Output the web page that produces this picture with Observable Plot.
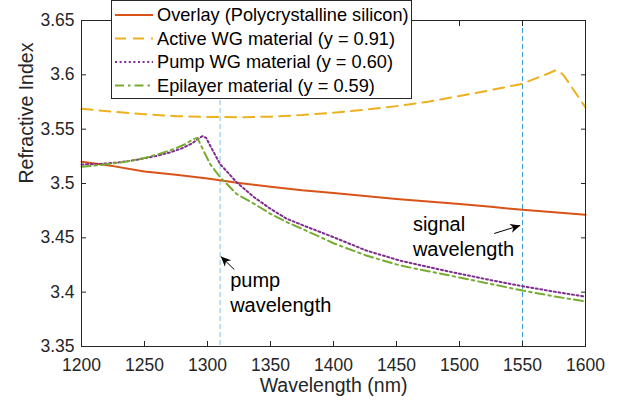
<!DOCTYPE html>
<html><head><meta charset="utf-8">
<script src="https://cdn.jsdelivr.net/npm/d3@7"></script>
<script src="https://cdn.jsdelivr.net/npm/@observablehq/plot@0.6"></script>
<style>
html,body{margin:0;padding:0;background:#fff;}
#wrap{position:relative;width:625px;height:402px;font-family:"Liberation Sans",Arial,sans-serif;}
#legend{position:absolute;left:111px;top:0px;}
</style></head><body><div id="wrap"></div>
<script>
// ---- data ----
const overlayX = [1200,1225,1250,1275,1300,1325,1350,1375,1400,1425,1450,1475,1500,1525,1550,1575,1600];
const overlayY = [3.5200,3.5160,3.5110,3.5080,3.5045,3.5005,3.4970,3.4937,3.4912,3.4885,3.4858,3.4835,3.4812,3.4785,3.4758,3.4735,3.4712];

const activeX = [1200,1225,1250,1275,1300,1325,1350,1375,1400,1425,1450,1475,1500,1525,1550,1560,1570,1576,1580,1583,1590,1600];
const activeY = [3.5687,3.5660,3.5638,3.5620,3.5612,3.5610,3.5615,3.5630,3.5652,3.5680,3.5712,3.5752,3.5805,3.5860,3.5918,3.5965,3.6010,3.6040,3.6025,3.5990,3.5870,3.5700];

const pumpX = [1200,1215,1230,1245,1260,1270,1280,1288,1293,1296,1299,1302,1306,1310,1317,1323,1337,1350,1363,1376,1388,1400,1426,1453,1485,1500,1525,1550,1575,1600];
const pumpY = [3.5175,3.5180,3.5195,3.5220,3.5255,3.5285,3.5325,3.5370,3.5415,3.5435,3.5420,3.5350,3.5265,3.5180,3.5090,3.5012,3.4874,3.4767,3.4675,3.4614,3.4560,3.4506,3.4383,3.4290,3.4206,3.4170,3.4110,3.4055,3.4005,3.3958];

const epiX = [1200,1215,1235,1250,1261,1274,1283,1289,1292,1294,1298,1302,1310,1323,1337,1350,1363,1376,1388,1400,1426,1453,1485,1500,1525,1550,1575,1600];
const epiY = [3.5155,3.5170,3.5200,3.5235,3.5270,3.5320,3.5365,3.5410,3.5420,3.5370,3.5275,3.5180,3.5058,3.4905,3.4813,3.4721,3.4644,3.4578,3.4515,3.4450,3.4337,3.4245,3.4170,3.4135,3.4075,3.4015,3.3962,3.3914];

const seriesNames = ["Overlay (Polycrystalline silicon)","Active WG material (y = 0.91)","Pump WG material (y = 0.60)","Epilayer material (y = 0.59)"];
const seriesColors = ["#D95319","#EDB120","#7E2F8E","#77AC30"];
const seriesDash = [null,"11,7","2,2.6","9,4,2.5,4"];

const markerLines = [1310, 1550];
const markerColors = ["#80C2E8", "#3D9BD3"];

const xTicks = [1200,1250,1300,1350,1400,1450,1500,1550,1600];
const yTicks = [3.35,3.4,3.45,3.5,3.55,3.6,3.65];
const xLabel = "Wavelength (nm)";
const yLabel = "Refractive Index";

const notes = [
  {x: 1318, y: 3.3813, text: "pump\nwavelength"},
  {x: 1463, y: 3.4337, text: "signal\nwavelength"}
];
const arrows = [
  {x1: 1321.2, y1: 3.4209, x2: 1310.6, y2: 3.4328},
  {x1: 1527.5, y1: 3.4540, x2: 1548.2, y2: 3.4614}
];

// ---- build ----
const seriesX = [overlayX, activeX, pumpX, epiX];
const seriesY = [overlayY, activeY, pumpY, epiY];
const ink = "#262626";
const font = "'Liberation Sans', Arial, sans-serif";

function filledHead(color) {
  const ns = "http://www.w3.org/2000/svg";
  const m = document.createElementNS(ns, "marker");
  m.setAttribute("viewBox", "-12 -6 13 12");
  m.setAttribute("markerWidth", "13");
  m.setAttribute("markerHeight", "12");
  m.setAttribute("markerUnits", "userSpaceOnUse");
  m.setAttribute("orient", "auto");
  m.setAttribute("refX", "0");
  m.setAttribute("refY", "0");
  const p = document.createElementNS(ns, "path");
  p.setAttribute("d", "M0,0L-10,-4.5L-7,0L-10,4.5Z");
  p.setAttribute("fill", "black");
  p.setAttribute("stroke", "none");
  m.appendChild(p);
  return m;
}

function build(markerEnd) {
  const marks = [];
  markerLines.forEach((v, i) => {
    marks.push(Plot.ruleX([v], {stroke: markerColors[i], strokeWidth: 1, strokeDasharray: "5,3"}));
  });
  seriesNames.forEach((name, i) => {
    const rows = seriesX[i].map((x, j) => ({x, y: seriesY[i][j]}));
    marks.push(Plot.line(rows, {x: "x", y: "y", stroke: seriesColors[i], strokeWidth: 2,
      strokeDasharray: seriesDash[i] ?? undefined, curve: "linear"}));
  });
  marks.push(Plot.link(arrows, {x1: "x1", y1: "y1", x2: "x2", y2: "y2", stroke: "black", strokeWidth: 1, markerEnd}));
  marks.push(Plot.text(notes, {x: "x", y: "y", text: "text", textAnchor: "start", lineAnchor: "bottom",
    lineHeight: 1.25, fontSize: 20, fill: "black"}));
  marks.push(Plot.frame({stroke: ink, strokeWidth: 1}));
  marks.push(Plot.axisX({anchor: "bottom", ticks: xTicks, tickSize: -5, tickPadding: 17.5, fontSize: 17.5,
    tickFormat: d => String(d), stroke: ink, fill: ink, label: null}));
  marks.push(Plot.axisX({anchor: "top", ticks: xTicks, tickSize: -5, tickFormat: () => "", stroke: ink, label: null}));
  marks.push(Plot.axisY({anchor: "left", ticks: yTicks, tickSize: -5, tickPadding: 12, fontSize: 17.5,
    tickFormat: d => String(+d.toFixed(2)), stroke: ink, fill: ink, label: null}));
  marks.push(Plot.axisY({anchor: "right", ticks: yTicks, tickSize: -5, tickFormat: () => "", stroke: ink, label: null}));
  marks.push(Plot.text([xLabel], {text: d => d, frameAnchor: "bottom", dy: 45.5, lineAnchor: "bottom",
    fontSize: 19.5, fill: ink}));
  marks.push(Plot.text([yLabel], {text: d => d, frameAnchor: "left", dx: -49, rotate: -90, lineAnchor: "bottom",
    fontSize: 19.5, fill: ink}));
  return Plot.plot({
    width: 625, height: 402,
    marginLeft: 81, marginRight: 40, marginTop: 20, marginBottom: 56,
    style: {fontFamily: font, fontSize: "17px", color: ink, background: "#fff", overflow: "visible"},
    x: {domain: [1200, 1600]},
    y: {domain: [3.35, 3.65]},
    marks
  });
}

let chart;
try { chart = build(filledHead); } catch (e) { chart = build("arrow"); }
const wrap = document.getElementById("wrap");
wrap.appendChild(chart);

// ---- legend ----
const ns = "http://www.w3.org/2000/svg";
const lg = document.createElementNS(ns, "svg");
lg.setAttribute("id", "legend");
lg.setAttribute("width", "302");
lg.setAttribute("height", "100");
let html = `<rect x="0.5" y="0.5" width="300" height="98" fill="white" stroke="${ink}" stroke-width="1"/>`;
const rowY = [15, 38.5, 62, 85.5];
seriesNames.forEach((name, i) => {
  const dash = seriesDash[i] ? `stroke-dasharray="${seriesDash[i]}"` : "";
  html += `<line x1="4" x2="42" y1="${rowY[i]}" y2="${rowY[i]}" stroke="${seriesColors[i]}" stroke-width="2" ${dash}/>`;
  html += `<text x="46" y="${rowY[i]}" dy="0.35em" font-size="18.2" fill="black" font-family="${font}">${name}</text>`;
});
lg.innerHTML = html;
wrap.appendChild(lg);
</script>
</body></html>
